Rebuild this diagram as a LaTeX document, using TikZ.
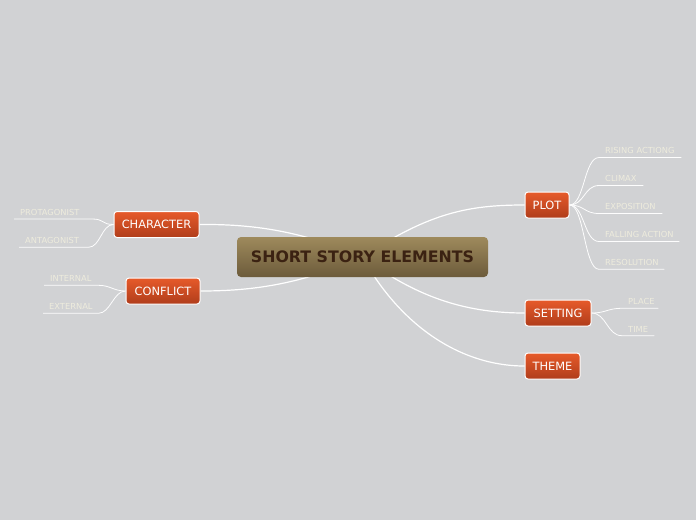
\documentclass[tikz,border=0pt]{standalone}
\usepackage{fontspec}
\setmainfont{DejaVu Sans}
\usetikzlibrary{backgrounds}
\definecolor{canvas}{HTML}{D1D2D4}
\definecolor{roottop}{HTML}{9E8A5C}
\definecolor{rootbot}{HTML}{6C5B3B}
\definecolor{roottext}{HTML}{3B2212}
\definecolor{maintop}{HTML}{E65A2A}
\definecolor{mainbot}{HTML}{B03D1B}
\definecolor{subtext}{HTML}{EEECDD}

\begin{document}
\begin{tikzpicture}[x=1pt, y=-1pt,
    root/.style={rounded corners=4pt, top color=roottop, bottom color=rootbot, text=roottext, font=\bfseries\fontsize{15.8}{18}\selectfont, minimum width=251pt, minimum height=40pt},
    topic/.style={rounded corners=3pt, draw=white, line width=1pt, top color=maintop, bottom color=mainbot, text=white, font=\fontsize{11.4}{13}\selectfont, minimum height=26pt},
    subtopic/.style={anchor=south west, inner xsep=6pt, inner ysep=3.5pt, align=left, text=subtext, font=\fontsize{8.3}{9}\selectfont},
    branch/.style={white, line width=1.2pt},
    twig/.style={white!95!canvas, line width=0.8pt}]
    \useasboundingbox (0,0) rectangle (696,520);

    \node[root] (root) at (362.5,257) {SHORT STORY ELEMENTS};
    \node[topic, minimum width=44pt] (plot) at (547,205) {PLOT};
    \node[topic, minimum width=85pt] (character) at (156.5,224.5) {CHARACTER};
    \node[topic, minimum width=74pt] (conflict) at (163,291) {CONFLICT};
    \node[topic, minimum width=66pt] (setting) at (558,313) {SETTING};
    \node[topic, minimum width=55pt] (theme) at (552.5,366) {THEME};

    \node[subtopic, text width=70pt] (rising) at (599,157.5) {RISING ACTIONG};
    \node[subtopic, text width=32pt] (climax) at (599,185.5) {CLIMAX};
    \node[subtopic, text width=51pt] (exposition) at (599,213.5) {EXPOSITION};
    \node[subtopic, text width=68pt] (falling) at (599,241.5) {\mbox{FALLING ACTION}};
    \node[subtopic, text width=53pt] (resolution) at (599,269.3) {RESOLUTION};
    \node[subtopic, text width=66pt] (protagonist) at (14,219) {PROTAGONIST};
    \node[subtopic, text width=57pt] (antagonist) at (19,247.3) {ANTAGONIST};
    \node[subtopic, text width=42pt] (internal) at (44,285.3) {INTERNAL};
    \node[subtopic, text width=43pt] (external) at (43,313.3) {EXTERNAL};
    \node[subtopic, text width=24pt] (place) at (622,308.3) {PLACE};
    \node[subtopic, text width=20pt] (time) at (622,335.7) {TIME};

    \draw[twig] (plot.east) .. controls +(15,0) and +(-15,0) .. (rising.south west) -- (rising.south east);
    \draw[twig] (plot.east) .. controls +(15,0) and +(-15,0) .. (climax.south west) -- (climax.south east);
    \draw[twig] (plot.east) .. controls +(15,0) and +(-15,0) .. (exposition.south west) -- (exposition.south east);
    \draw[twig] (plot.east) .. controls +(15,0) and +(-15,0) .. (falling.south west) -- (falling.south east);
    \draw[twig] (plot.east) .. controls +(15,0) and +(-15,0) .. (resolution.south west) -- (resolution.south east);
    \draw[twig] (character.west) .. controls +(-12,0) and +(12,0) .. (protagonist.south east) -- (protagonist.south west);
    \draw[twig] (character.west) .. controls +(-12,0) and +(12,0) .. (antagonist.south east) -- (antagonist.south west);
    \draw[twig] (conflict.west) .. controls +(-12,0) and +(12,0) .. (internal.south east) -- (internal.south west);
    \draw[twig] (conflict.west) .. controls +(-12,0) and +(12,0) .. (external.south east) -- (external.south west);
    \draw[twig] (setting.east) .. controls +(15,0) and +(-15,0) .. (place.south west) -- (place.south east);
    \draw[twig] (setting.east) .. controls +(15,0) and +(-15,0) .. (time.south west) -- (time.south east);

    \begin{scope}[on background layer]
      \fill[canvas] (0,0) rectangle (696,520);
      \draw[branch] (root.center) .. controls (430,212) and (470,205) .. (plot.west);
      \draw[branch] (root.center) .. controls (420,300) and (470,313) .. (setting.west);
      \draw[branch] (root.center) .. controls (400,325) and (460,366) .. (theme.west);
      \draw[branch] (root.center) .. controls (300,230) and (250,224) .. (character.east);
      \draw[branch] (root.center) .. controls (300,285) and (250,291) .. (conflict.east);
    \end{scope}
\end{tikzpicture}
\end{document}
